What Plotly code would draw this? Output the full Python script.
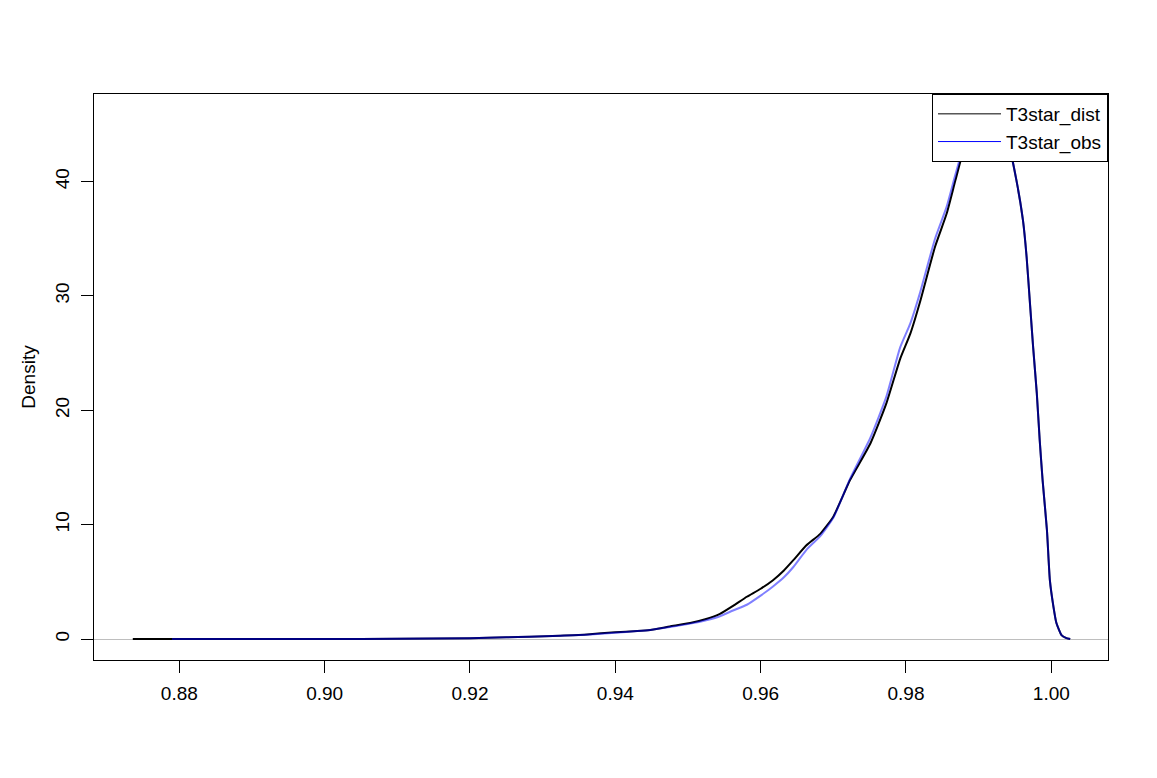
import plotly.graph_objects as go

# ---- data ----
dist_x = [0.8736, 0.880, 0.890, 0.900, 0.910, 0.920, 0.925, 0.9282, 0.9324, 0.9361,
          0.9400, 0.9430, 0.9448, 0.9475, 0.9503, 0.9525, 0.9544, 0.9562, 0.9581, 0.9600,
          0.9617, 0.9632, 0.9645, 0.9663, 0.9682, 0.9700, 0.9723, 0.9751, 0.9773, 0.9792,
          0.9806, 0.9819, 0.9840, 0.9856, 0.9868, 0.9880, 0.9895, 0.9910, 0.9925, 0.9940,
          0.9952, 0.9961, 0.9966, 0.9971, 0.9975, 0.9980, 0.9984, 0.9988, 0.9994, 0.9998,
          1.0003, 1.0007, 1.0014, 1.0020, 1.0026]
dist_y = [0.0, 0.0, 0.0, 0.0, 0.02, 0.08, 0.15, 0.2, 0.3, 0.4,
          0.6, 0.7, 0.8, 1.1, 1.4, 1.75, 2.2, 2.9, 3.7, 4.4,
          5.15, 6.0, 6.9, 8.2, 9.2, 10.7, 13.9, 17.1, 20.6, 24.5,
          26.7, 29.4, 34.3, 37.2, 40.1, 42.9, 44.9, 45.9, 45.5, 43.6,
          40.1, 36.6, 33.4, 29.0, 25.5, 21.5, 17.4, 13.9, 9.5, 5.15,
          2.8, 1.4, 0.35, 0.1, 0.0]

obs_x = [0.8790, 0.890, 0.900, 0.910, 0.920, 0.925, 0.9282, 0.9324, 0.9361,
         0.9400, 0.9430, 0.9448, 0.9475, 0.9503, 0.9525, 0.9544, 0.9562, 0.9581, 0.9600,
         0.9617, 0.9632, 0.9645, 0.9663, 0.9682, 0.9700, 0.9723, 0.9751, 0.9773, 0.9792,
         0.9806, 0.9819, 0.9840, 0.9856, 0.9868, 0.9880, 0.9895, 0.9910, 0.9925, 0.9940,
         0.9952, 0.9961, 0.9966, 0.9971, 0.9975, 0.9980, 0.9984, 0.9988, 0.9994, 0.9998,
         1.0003, 1.0007, 1.0014, 1.0020, 1.0026]
obs_y = [0.0, 0.0, 0.0, 0.02, 0.08, 0.15, 0.2, 0.28, 0.38,
         0.55, 0.7, 0.8, 1.05, 1.35, 1.65, 2.0, 2.5, 3.0, 3.8,
         4.6, 5.4, 6.3, 7.8, 9.0, 10.6, 14.0, 17.6, 21.2, 25.5,
         27.6, 30.2, 35.0, 37.8, 40.6, 43.2, 45.1, 46.0, 45.5, 43.6,
         40.1, 36.6, 33.4, 29.0, 25.5, 21.5, 17.4, 13.9, 9.5, 5.15,
         2.8, 1.4, 0.35, 0.1, 0.0]

series_names = ["T3star_dist", "T3star_obs"]
x_ticks = [0.88, 0.90, 0.92, 0.94, 0.96, 0.98, 1.00]
x_tick_labels = ["0.88", "0.90", "0.92", "0.94", "0.96", "0.98", "1.00"]
y_ticks = [0, 10, 20, 30, 40]
y_tick_labels = ["0", "10", "20", "30", "40"]

FONT = "Liberation Sans, Arial, sans-serif"

fig = go.Figure()
fig.add_trace(go.Scatter(x=dist_x, y=dist_y, mode="lines", showlegend=False,
                         line=dict(color="black", width=2, shape="spline", smoothing=0.5)))
fig.add_trace(go.Scatter(x=obs_x, y=obs_y, mode="lines", showlegend=False,
                         line=dict(color="rgba(0,0,255,0.5)", width=2, shape="spline", smoothing=0.5)))
# legend entries (thin lines as in the reference)
fig.add_trace(go.Scatter(x=[None], y=[None], mode="lines", name=series_names[0],
                         line=dict(color="black", width=1)))
fig.add_trace(go.Scatter(x=[None], y=[None], mode="lines", name=series_names[1],
                         line=dict(color="blue", width=1)))

fig.update_layout(
    width=1149, height=770,
    margin=dict(l=86, r=49, t=86, b=118),
    paper_bgcolor="white", plot_bgcolor="white",
    font=dict(family=FONT, size=19, color="black"),
    legend=dict(x=1, y=1, xanchor="right", yanchor="top",
                bgcolor="white", bordercolor="black", borderwidth=1,
                font=dict(family=FONT, size=19, color="black"),
                tracegroupgap=0, itemwidth=63),
)
fig.update_xaxes(range=[0.86826, 1.0078], tickmode="array", tickvals=x_ticks,
                 ticktext=x_tick_labels, ticks="outside", ticklen=12, tickwidth=1,
                 tickcolor="black", showline=True, linecolor="black", linewidth=1,
                 mirror=True, showgrid=False, zeroline=False, ticklabelstandoff=4,
                 tickfont=dict(family=FONT, size=19, color="black"))
fig.update_yaxes(range=[-1.83, 47.65], tickmode="array", tickvals=y_ticks,
                 ticktext=y_tick_labels, ticks="outside", ticklen=12, tickwidth=1,
                 tickcolor="black", showline=True, linecolor="black", linewidth=1,
                 mirror=True, showgrid=False, zeroline=True, zerolinecolor="#BEBEBE",
                 zerolinewidth=1, tickangle=-90, ticklabelstandoff=4,
                 title=dict(text="Density", font=dict(family=FONT, size=19, color="black"),
                            standoff=11),
                 tickfont=dict(family=FONT, size=19, color="black"))

fig.write_html("out.html")
